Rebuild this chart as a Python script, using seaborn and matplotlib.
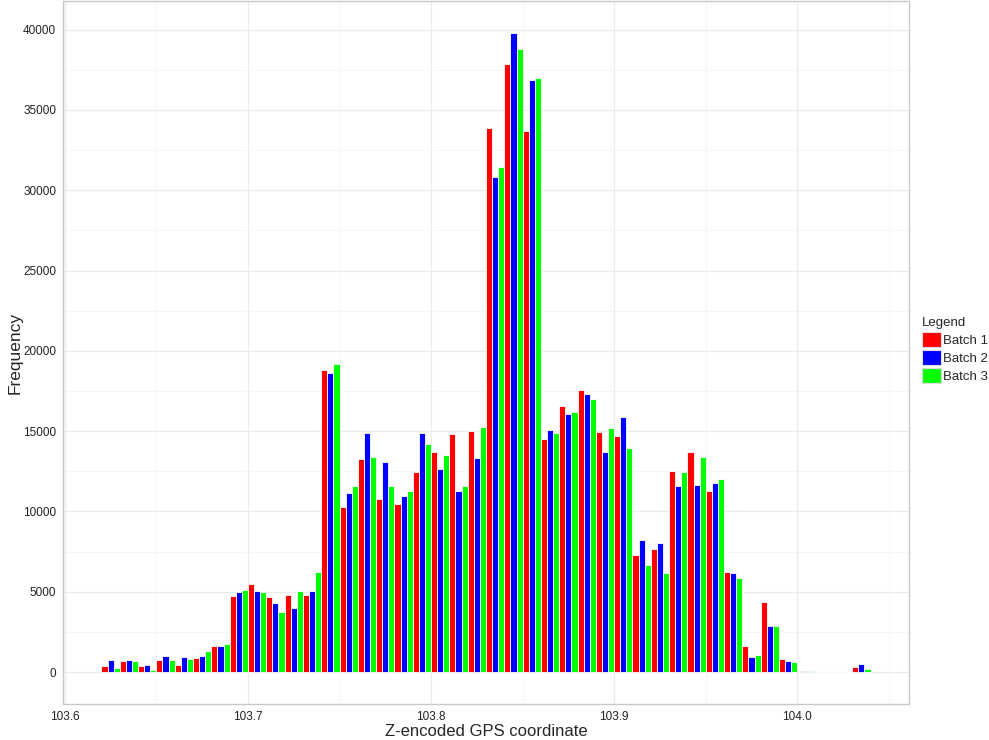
import numpy as np
import pandas as pd
import matplotlib
matplotlib.use('Agg')
import matplotlib.pyplot as plt
from matplotlib.patches import Patch
import seaborn as sns

# ==================== data ====================
bin_start = 103.62
bin_width = 0.01
n_bins = 42
batches = ['Batch 1', 'Batch 2', 'Batch 3']
batch_colors = ['#FF0000', '#0000FF', '#00FF00']

batch1 = [350, 680, 350, 720, 450, 890, 1630, 4720, 5480, 4700,
          4800, 4800, 18780, 10290, 13270, 10780, 10450, 12460, 13700, 14820,
          14990, 33890, 37830, 33680, 14530, 16550, 17560, 14930, 14700, 7290,
          7660, 12530, 13710, 11270, 6235, 1615, 4385, 810, 70, 0,
          0, 290]
batch2 = [720, 780, 430, 970, 930, 1010, 1620, 4970, 5030, 4300,
          3980, 5050, 18630, 11160, 14910, 13100, 10950, 14910, 12670, 11260,
          13350, 30850, 39790, 36890, 15075, 16090, 17290, 13710, 15860, 8220,
          8010, 11600, 11640, 11740, 6150, 955, 2895, 700, 40, 0,
          0, 470]
batch3 = [270, 680, 100, 760, 830, 1340, 1760, 5110, 4990, 3750,
          5050, 6250, 19210, 11590, 13390, 11590, 11300, 14180, 13540, 11610,
          15260, 31430, 38780, 36960, 14900, 16190, 16980, 15200, 13975, 6650,
          6190, 12450, 13400, 12010, 5840, 1040, 2875, 620, 60, 15,
          0, 220]

centers = np.round(bin_start + bin_width * (np.arange(n_bins) + 0.5), 4)
df = pd.DataFrame({
    'coord': np.tile(centers, 3),
    'count': batch1 + batch2 + batch3,
    'batch': np.repeat(batches, n_bins),
})

# ==================== plot ====================
sns.set_theme(style='white')
plt.rcParams['font.family'] = ['Liberation Sans', 'DejaVu Sans']

fig = plt.figure(figsize=(9.89, 7.4), dpi=100)
ax = fig.add_axes([63 / 989, 36 / 740, 846 / 989, 703 / 740])

sns.histplot(data=df, x='coord', weights='count', hue='batch',
             hue_order=batches, palette=batch_colors,
             multiple='dodge', binwidth=bin_width,
             binrange=(bin_start, bin_start + n_bins * bin_width),
             shrink=1, alpha=1, edgecolor='white', linewidth=0.6,
             legend=False, ax=ax)

# ggplot style 5% expansion
x0, x1 = bin_start, bin_start + n_bins * bin_width
xpad = (x1 - x0) * 0.05
ax.set_xlim(x0 - xpad, x1 + xpad)
ymax = max(batch1 + batch2 + batch3)
ax.set_ylim(-ymax * 0.05, ymax * 1.05)

ax.set_xticks([103.6, 103.7, 103.8, 103.9, 104.0])
ax.set_xticklabels(['103.6', '103.7', '103.8', '103.9', '104.0'])
ax.set_xticks([103.65, 103.75, 103.85, 103.95, 104.05], minor=True)
ax.set_yticks(np.arange(0, 40001, 5000))
ax.set_yticklabels([str(v) for v in range(0, 40001, 5000)])
ax.set_yticks(np.arange(2500, 40001, 5000), minor=True)

ax.grid(which='major', color='#EBEBEB', linewidth=0.9)
ax.grid(which='minor', color='#F5F5F5', linewidth=0.6)
ax.set_axisbelow(True)

for sp in ax.spines.values():
    sp.set_color('#C8C8C8')
    sp.set_linewidth(1)

ax.tick_params(axis='both', which='major', direction='out', length=3,
               width=0.8, color='#555555', labelsize=8.5, labelcolor='#222222', pad=2)
ax.tick_params(axis='both', which='minor', length=0)

ax.set_xlabel('Z-encoded GPS coordinate', fontsize=12, labelpad=1)
ax.set_ylabel('Frequency', fontsize=12.5, labelpad=0)

handles = [Patch(facecolor=c, edgecolor='#DDDDDD', linewidth=0.8) for c in batch_colors]
leg = fig.legend(handles, batches, title='Legend', loc='upper left',
                 bbox_to_anchor=(917 / 989, 1 - 312 / 740), frameon=False,
                 fontsize=9.5, title_fontsize=9.5, handlelength=1.4, handleheight=1.4,
                 handletextpad=0.2, labelspacing=0.2, borderaxespad=0)
leg._legend_box.align = 'left'

fig.savefig('out.png', dpi=100)
